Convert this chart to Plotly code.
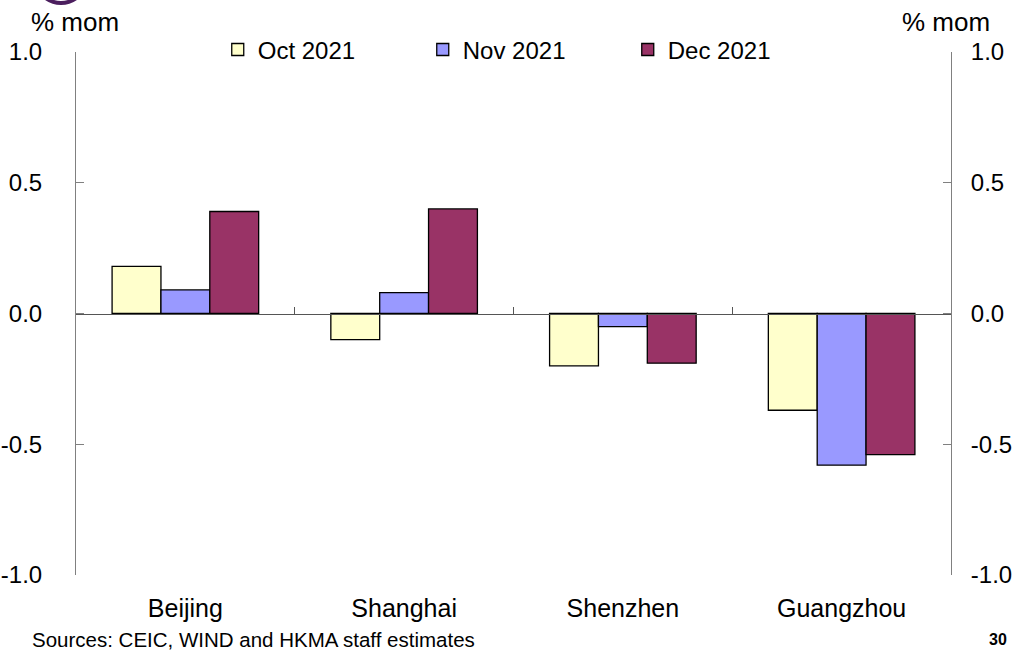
import plotly.graph_objects as go

# Month-on-month change by city (% mom)
cities = ["Beijing", "Shanghai", "Shenzhen", "Guangzhou"]
months = ["Oct 2021", "Nov 2021", "Dec 2021"]
oct_2021 = [0.18, -0.10, -0.20, -0.37]
nov_2021 = [0.09, 0.08, -0.05, -0.58]
dec_2021 = [0.39, 0.40, -0.19, -0.54]
series = [oct_2021, nov_2021, dec_2021]
colors = ["#FFFFCC", "#9999FF", "#993366"]
y_ticks = [-1.0, -0.5, 0.0, 0.5, 1.0]
y_ticktext = ["-1.0", "-0.5", "0.0", "0.5", "1.0"]

FONT = "Liberation Sans, Arial, sans-serif"
W, H = 1013, 651
L, R, T, B = 76, 62, 52, 76

fig = go.Figure()
for name, vals, col in zip(months, series, colors):
    fig.add_trace(go.Bar(
        x=cities, y=vals, name=name,
        marker=dict(color=col, line=dict(color="#000000", width=1.3)),
    ))

# helper trace so the zero-line axis (with boundary ticks) is drawn
fig.add_trace(go.Scatter(x=cities, y=[None] * len(cities), xaxis="x2",
                         showlegend=False, hoverinfo="skip", mode="markers"))
# helper trace for the right-hand y axis
fig.add_trace(go.Scatter(x=cities, y=[None] * len(cities), yaxis="y2",
                         showlegend=False, hoverinfo="skip", mode="markers"))

yaxis_common = dict(
    range=[-1.0, 1.0], tickvals=y_ticks, ticktext=y_ticktext,
    ticks="inside", ticklen=8, tickcolor="#808080", tickwidth=1,
    showline=True, linecolor="#808080", linewidth=1,
    showgrid=False, zeroline=False, automargin=False,
    tickfont=dict(family=FONT, size=24, color="#000000"),
)

fig.update_layout(
    width=W, height=H,
    margin=dict(l=L, r=R, t=T, b=B, pad=0, autoexpand=False),
    paper_bgcolor="white", plot_bgcolor="white",
    barmode="group", bargap=0.33, bargroupgap=0,
    font=dict(family=FONT, color="#000000"),
    xaxis=dict(
        showline=False, ticks="", showgrid=False, zeroline=False,
        automargin=False,
        tickfont=dict(family=FONT, size=25, color="#000000"),
        ticklabelstandoff=16,
    ),
    xaxis2=dict(
        overlaying="x", matches="x", anchor="free", position=0.5,
        showline=True, linecolor="#555555", linewidth=1,
        ticks="inside", ticklen=7, tickcolor="#555555",
        tickson="boundaries", showticklabels=False, showgrid=False,
        zeroline=False, automargin=False,
    ),
    yaxis=dict(**yaxis_common, side="left", ticklabelstandoff=28),
    yaxis2=dict(**yaxis_common, side="right", overlaying="y",
                ticklabelstandoff=14),
    legend=dict(
        orientation="h", x=0.162, xanchor="left", y=1.004, yanchor="middle",
        font=dict(family=FONT, size=24, color="#000000"),
        entrywidth=160, entrywidthmode="pixels",
        bgcolor="rgba(0,0,0,0)", traceorder="normal",
    ),
    showlegend=True,
)


def px_x(px):
    return (px - L) / (W - L - R)


def px_y(py):
    return (H - B - py) / (H - T - B)


annotations = [
    dict(text="% mom", x=px_x(29), y=px_y(22), xanchor="left", yanchor="middle",
         font=dict(size=26)),
    dict(text="% mom", x=px_x(900), y=px_y(22), xanchor="left", yanchor="middle",
         font=dict(size=26)),
    dict(text="Sources: CEIC, WIND and HKMA staff estimates", x=px_x(30),
         y=px_y(639), xanchor="left", yanchor="middle", font=dict(size=20.5)),
    dict(text="<b>30</b>", x=px_x(1009), y=px_y(650), xanchor="right",
         yanchor="bottom", font=dict(size=16)),
]
for a in annotations:
    a.update(xref="paper", yref="paper", showarrow=False)
    a["font"]["family"] = FONT
    a["font"].setdefault("color", "#000000")
fig.update_layout(annotations=annotations)

# logo ring peeking in at the top-left corner
fig.add_shape(type="circle", xref="paper", yref="paper",
              x0=px_x(31), x1=px_x(91), y0=px_y(3), y1=px_y(-70),
              line=dict(color="#4B1E5E", width=4), fillcolor="rgba(0,0,0,0)")

fig.write_html("out.html")
